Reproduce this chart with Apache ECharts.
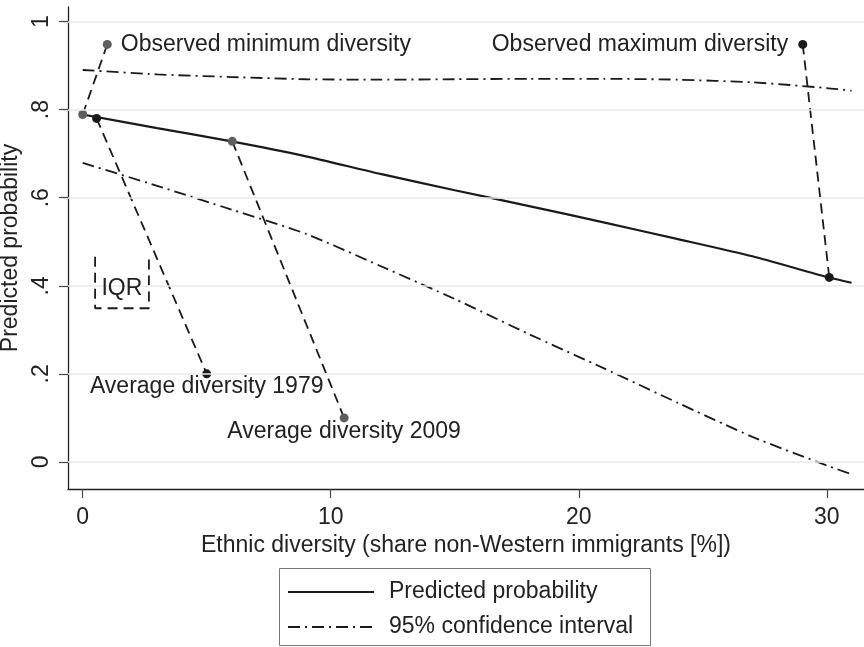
<!DOCTYPE html>
<html><head><meta charset="utf-8">
<script src="https://cdn.jsdelivr.net/npm/echarts@6/dist/echarts.min.js"></script>
<style>html,body{margin:0;padding:0;background:#fff}#c{width:864px;height:647px}</style>
</head><body><div id="c"></div>
<script>
const xVals = [0,3,6,9,12,15,18,21,24,27,30,31];
const predicted = [0.789,0.758,0.728,0.694,0.654,0.617,0.581,0.544,0.506,0.467,0.420,0.407];
const ciUpper = [0.890,0.880,0.874,0.869,0.868,0.869,0.870,0.870,0.868,0.862,0.849,0.843];
const ciLower = [0.679,0.627,0.573,0.518,0.445,0.370,0.290,0.213,0.134,0.057,-0.008,-0.028];
const xTicks = [0,10,20,30];
const yTicks = [0,0.2,0.4,0.6,0.8,1];
const yTickLabels = ['0','.2','.4','.6','.8','1'];
const obsMinLine = [[0,0.789],[0.99,0.948]];
const avg1979Line = [[0.56,0.780],[5.0,0.200]];
const avg2009Line = [[6.03,0.728],[10.54,0.100]];
const obsMaxLine = [[29.03,0.948],[30.1,0.419]];
const iqrBracket = [[0.5,0.466],[0.5,0.349],[2.67,0.349],[2.67,0.466]];
const iqrLabelPos = [1.58,0.394];
const legendNames = ['Predicted probability', '95% confidence interval'];

const FONT = '"Liberation Sans", Arial, Helvetica, sans-serif';
const TXT = '#222';
const INK = '#1a1a1a';
const GRAY = '#5e5e5e';
const FS = 23;
const DASHDOT = [12, 5, 2, 5];

const pair = (xs, ys) => xs.map((x, i) => [x, ys[i]]);

function annot(pts, c0, c1, labelIdx, text, pos, dist) {
  const lab = { show: true, formatter: text, position: pos, distance: dist,
                color: TXT, fontSize: FS, fontFamily: FONT };
  return {
    type: 'line', silent: true, z: 4,
    symbol: 'circle', symbolSize: 9, showSymbol: true,
    lineStyle: { color: INK, width: 1.8, type: [10, 6] },
    emphasis: { disabled: true },
    data: pts.map((p, i) => {
      const d = { value: p, itemStyle: { color: i === 0 ? c0 : c1 } };
      if (i === labelIdx) d.label = lab;
      return d;
    })
  };
}

const chart = echarts.init(document.getElementById('c'), null, { renderer: 'canvas' });
chart.setOption({
  animation: false,
  backgroundColor: '#fff',
  textStyle: { fontFamily: FONT, color: TXT },
  grid: { left: 68, right: 0, top: 7, bottom: 158, outerBoundsMode: 'none' },
  xAxis: {
    type: 'value', min: -0.593, max: 31.5,
    axisLine: { show: true, onZero: false, lineStyle: { color: '#222', width: 1.3 } },
    axisTick: { show: true, customValues: xTicks, length: 9, lineStyle: { color: '#444', width: 1.2 } },
    axisLabel: { customValues: xTicks, fontSize: FS, color: TXT, margin: 17, fontFamily: FONT },
    splitLine: { show: false },
    name: 'Ethnic diversity (share non-Western immigrants [%])',
    nameLocation: 'middle', nameGap: 40,
    nameTextStyle: { fontSize: FS, color: TXT, fontFamily: FONT }
  },
  yAxis: {
    type: 'value', min: -0.0614, max: 1.033,
    axisLine: { show: true, onZero: false, lineStyle: { color: '#222', width: 1.3 } },
    axisTick: { show: true, customValues: yTicks, length: 9, lineStyle: { color: '#444', width: 1.2 } },
    axisLabel: { customValues: yTicks, rotate: 90, fontSize: FS, color: TXT, margin: 15, fontFamily: FONT,
      formatter: v => { const i = yTicks.findIndex(t => Math.abs(t - v) < 1e-6); return i >= 0 ? yTickLabels[i] : ''; } },
    splitLine: { show: false },
    name: 'Predicted probability', nameLocation: 'middle', nameGap: 35,
    nameTextStyle: { fontSize: FS, color: TXT, fontFamily: FONT }
  },
  graphic: [
    { type: 'rect', silent: true,
      shape: { x: 279.5, y: 568.5, width: 371, height: 77 },
      style: { fill: 'none', stroke: '#777', lineWidth: 1 } },
    { type: 'line', silent: true, shape: { x1: 288, y1: 592, x2: 374, y2: 592 },
      style: { stroke: INK, lineWidth: 2.2 } },
    { type: 'line', silent: true, shape: { x1: 288, y1: 627, x2: 374, y2: 627 },
      style: { stroke: INK, lineWidth: 1.8, lineDash: DASHDOT } },
    { type: 'text', silent: true, x: 389, y: 592,
      style: { text: legendNames[0], fill: TXT, font: FS + 'px ' + FONT, verticalAlign: 'middle', align: 'left' } },
    { type: 'text', silent: true, x: 389, y: 627,
      style: { text: legendNames[1], fill: TXT, font: FS + 'px ' + FONT, verticalAlign: 'middle', align: 'left' } }
  ],
  series: [
    { type: 'line', silent: true, z: 0, data: [], symbol: 'none',
      markLine: { silent: true, symbol: ['none', 'none'], animation: false,
        label: { show: false }, emphasis: { disabled: true },
        lineStyle: { color: '#e6e9ea', width: 1.6, type: 'solid' },
        data: yTicks.map(v => ({ yAxis: v })) } },
    { name: legendNames[1], type: 'line', z: 2, silent: true, symbol: 'none', smooth: 0.2,
      lineStyle: { color: INK, width: 1.8, type: DASHDOT }, itemStyle: { color: INK },
      emphasis: { disabled: true }, data: pair(xVals, ciUpper) },
    { name: legendNames[1], type: 'line', z: 2, silent: true, symbol: 'none', smooth: 0.2,
      lineStyle: { color: INK, width: 1.8, type: DASHDOT }, itemStyle: { color: INK },
      emphasis: { disabled: true }, data: pair(xVals, ciLower) },
    { name: legendNames[0], type: 'line', z: 3, silent: true, symbol: 'none', smooth: 0.2,
      lineStyle: { color: INK, width: 2.2, type: 'solid' }, itemStyle: { color: INK },
      emphasis: { disabled: true }, data: pair(xVals, predicted) },
    annot(obsMinLine, GRAY, GRAY, 1, 'Observed minimum diversity', 'right', 9),
    annot(avg1979Line, INK, INK, 1, 'Average diversity 1979', 'bottom', -3),
    annot(avg2009Line, GRAY, GRAY, 1, 'Average diversity 2009', 'bottom', -2),
    annot(obsMaxLine, INK, INK, 0, 'Observed maximum diversity', 'left', 10),
    { type: 'line', silent: true, z: 4, symbol: 'none',
      lineStyle: { color: INK, width: 1.8, type: [10, 6] },
      emphasis: { disabled: true }, data: iqrBracket },
    { type: 'scatter', silent: true, z: 5, symbol: 'circle', symbolSize: 1,
      itemStyle: { color: '#ffffff', opacity: 1 },
      label: { show: true, position: 'inside', formatter: 'IQR', color: TXT, opacity: 1,
               textBorderWidth: 0, fontSize: FS, fontFamily: FONT },
      emphasis: { disabled: true }, data: [iqrLabelPos] }
  ]
});
</script></body></html>
